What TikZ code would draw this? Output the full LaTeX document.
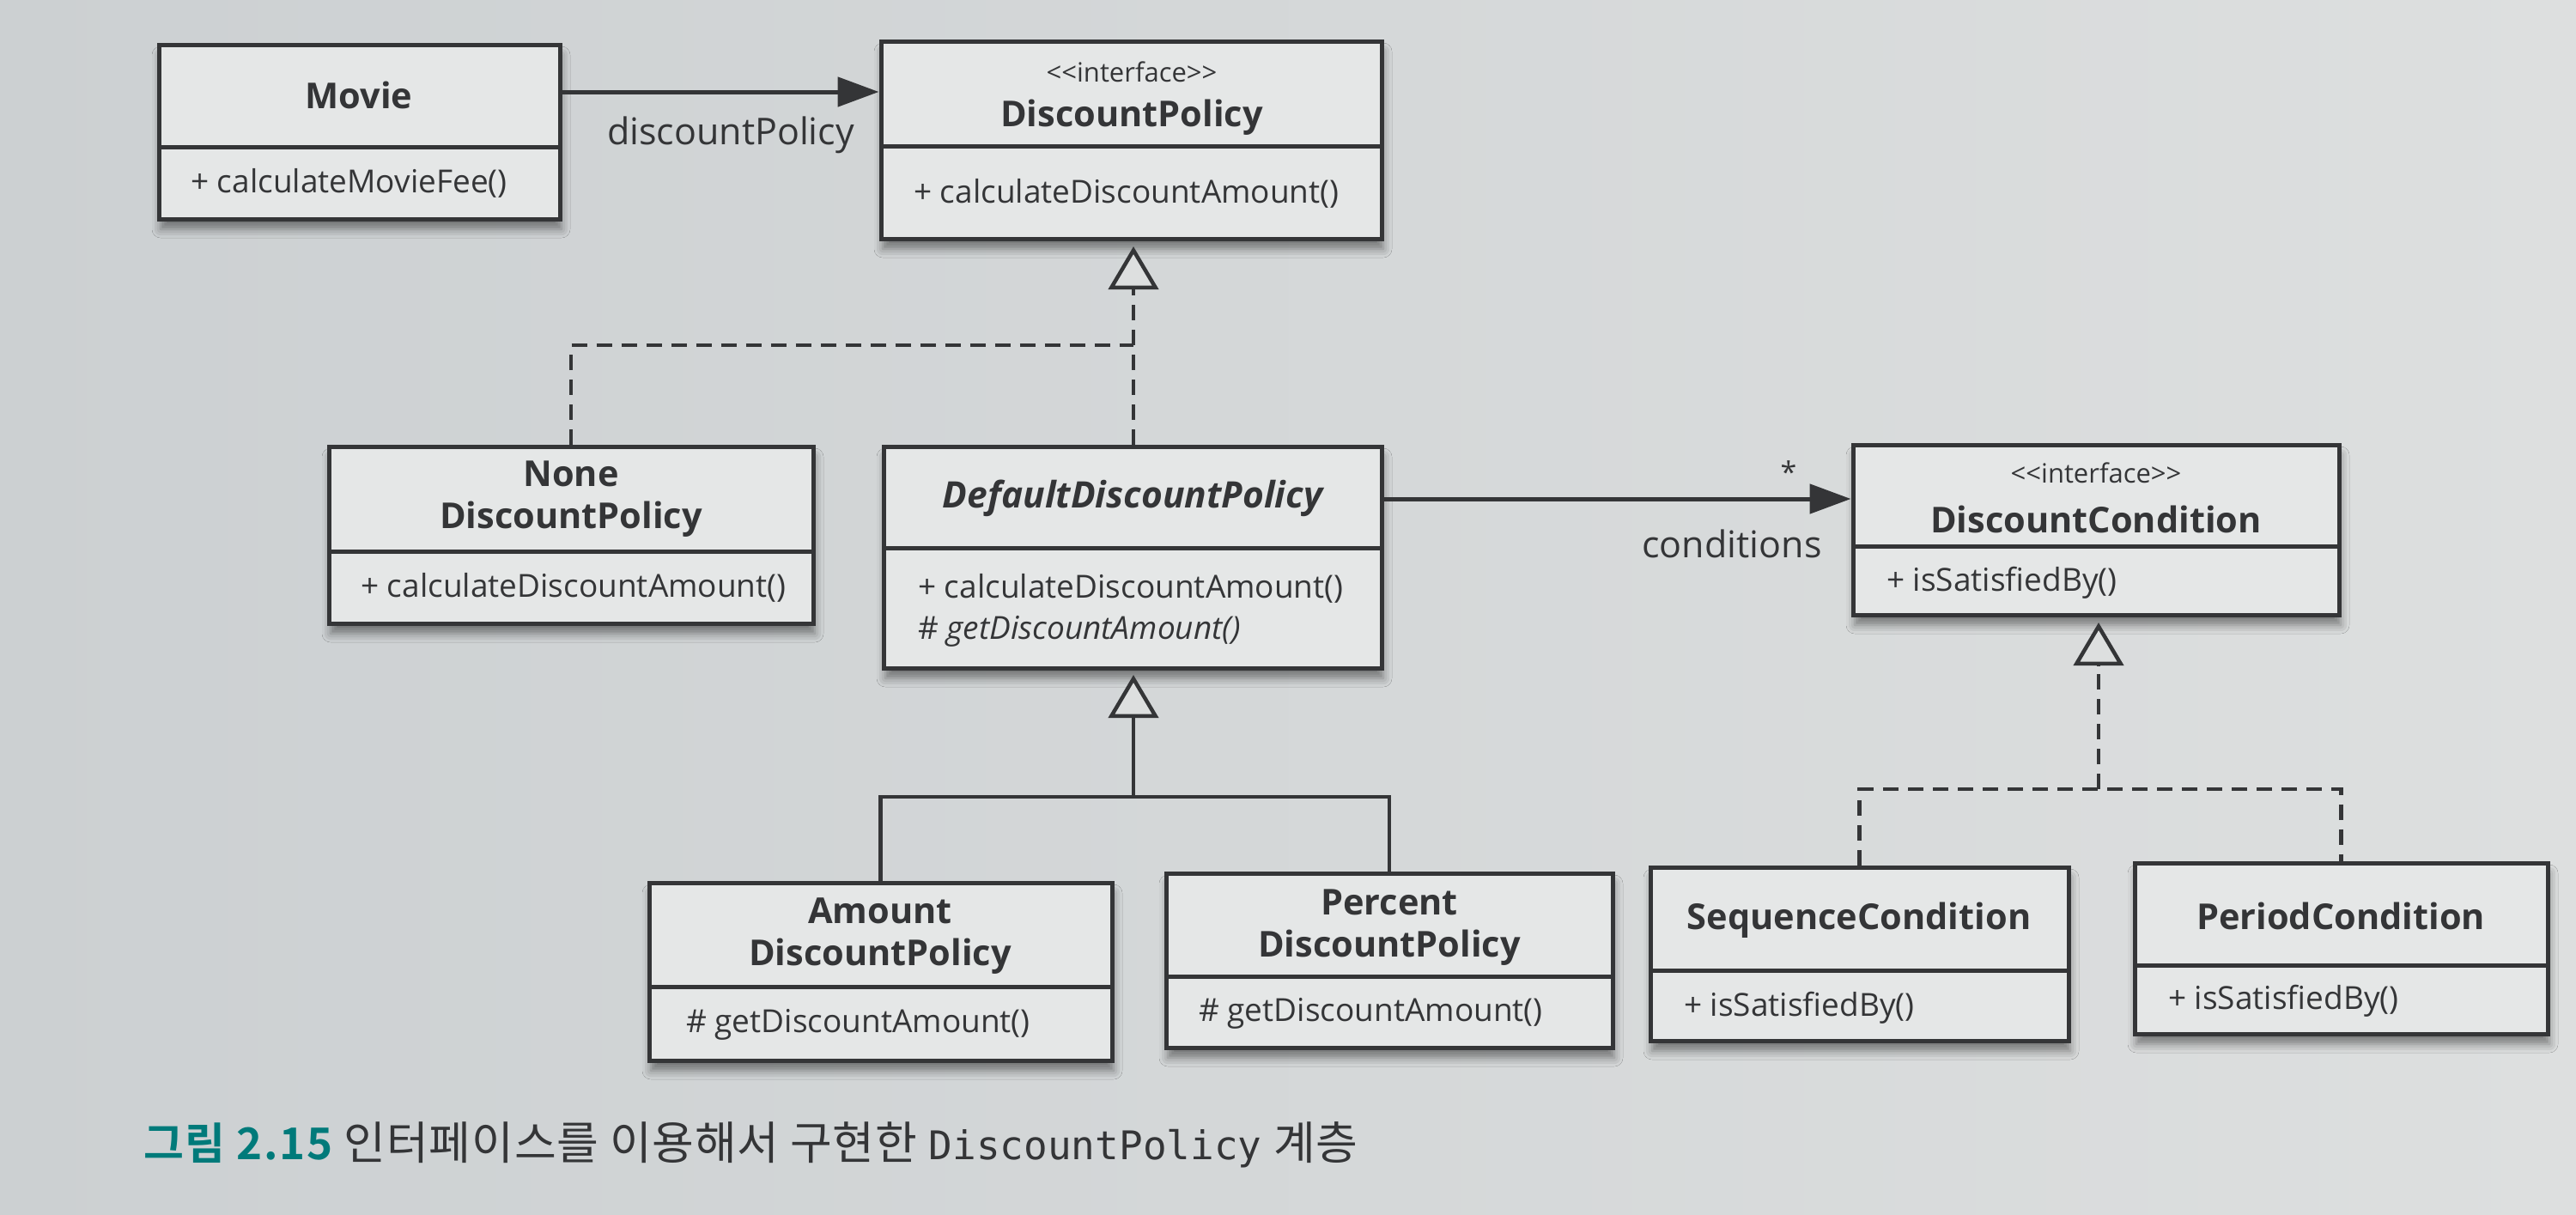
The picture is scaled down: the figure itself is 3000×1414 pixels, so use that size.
\documentclass[tikz,border=0pt]{standalone}
\usepackage{fontspec}
\setmainfont{Open Sans}
\newfontfamily\cjkfont[LetterSpace=1.5]{Noto Sans CJK KR}
\newfontfamily\cjkbold[LetterSpace=3]{Noto Sans CJK KR Bold}
\newfontfamily\capmono{DejaVu Sans Mono}
\usetikzlibrary{arrows.meta,shadows.blur}
\definecolor{paperL}{RGB}{204,208,210}
\definecolor{paperR}{RGB}{221,223,223}
\definecolor{boxfill}{RGB}{229,231,231}
\definecolor{ink}{RGB}{52,53,55}
\definecolor{teal}{RGB}{0,122,122}
\newcommand\classbox[6]{%
  \node[cbox, minimum width={(#4-#2)*1pt}, minimum height={(#5-#3)*1pt}] (#1) at ({(#2+#4)/2},{(#3+#5)/2}) {};
  \draw[cline] (#2,#6) -- (#4,#6);
}
\tikzset{
  cbox/.style={draw=ink, line width=5pt, fill=boxfill, inner sep=0pt,
    blur shadow={shadow xshift=2pt, shadow yshift=-12pt, shadow blur radius=10pt, shadow opacity=45}},
  cline/.style={draw=ink, line width=5pt},
  ctitle/.style={text=ink, font=\fontsize{41.5}{49}\selectfont\bfseries, align=center, inner sep=0pt},
  cstereo/.style={text=ink, font=\fontsize{31}{36}\selectfont, inner sep=0pt},
  cmeth/.style={text=ink, font=\fontsize{37}{50}\selectfont, align=left, inner sep=0pt, anchor=west},
  clabel/.style={text=ink, font=\fontsize{43}{50}\selectfont, inner sep=0pt},
  assoc/.style={draw=ink, line width=5pt, -{Triangle[length=48pt, width=34pt]}},
  realize/.style={draw=ink, line width=4.5pt, dash pattern=on 18pt off 11pt},
  gener/.style={draw=ink, line width=4.5pt},
  hollow/.style={draw=ink, line width=4.5pt, solid, -{Triangle[length=50pt, width=58pt, fill=paperR]}},
}
\begin{document}
\begin{tikzpicture}[x=1pt,y=-1pt]
\useasboundingbox (0,0) rectangle (3000,1414);
\fill[left color=paperL, right color=paperR] (0,0) rectangle (3000,1414);

% boxes
\classbox{Movie}{185}{52}{652}{255}{171}
\classbox{DP}{1026}{48}{1609}{278}{170}
\classbox{None}{383}{520}{947}{726}{642}
\classbox{Default}{1029}{520}{1609}{778}{638}
\classbox{DC}{2158}{518}{2724}{716}{636}
\classbox{Amount}{756}{1028}{1295}{1235}{1149}
\classbox{Percent}{1358}{1017}{1878}{1220}{1137}
\classbox{Seq}{1922}{1010}{2409}{1212}{1130}
\classbox{Period}{2486}{1005}{2967}{1204}{1124}

% texts
\node[ctitle] (Movie-t) at (418,111) {Movie};
\node[cmeth] (Movie-m) at (222,213) {+ calculateMovieFee()};

\node[cstereo] (DP-s) at (1318,84) {<{}<interface>{}>};
\node[ctitle] (DP-t) at (1318,137) {DiscountPolicy};
\node[cmeth] (DP-m) at (1064,225) {+ calculateDiscountAmount()};

\node[ctitle] (None-t) at (665,581) {None\\DiscountPolicy};
\node[cmeth] (None-m) at (420,684) {+ calculateDiscountAmount()};

\node[ctitle, font=\fontsize{42.5}{49}\selectfont\bfseries\itshape] (Default-t) at (1319,580) {DefaultDiscountPolicy};
\node[cmeth] (Default-m1) at (1069,685) {+ calculateDiscountAmount()};
\node[cmeth] (Default-m2) at (1069,735) {\# \textit{getDiscountAmount()}};

\node[cstereo] (DC-s) at (2441,551) {<{}<interface>{}>};
\node[ctitle] (DC-t) at (2441,605) {DiscountCondition};
\node[cmeth] (DC-m) at (2197,679) {+ isSatisfiedBy()};

\node[ctitle] (Amount-t) at (1025,1090) {Amount\\DiscountPolicy};
\node[cmeth] (Amount-m) at (799,1193) {\# getDiscountAmount()};

\node[ctitle] (Percent-t) at (1618,1080) {Percent\\DiscountPolicy};
\node[cmeth] (Percent-m) at (1396,1180) {\# getDiscountAmount()};

\node[ctitle] (Seq-t) at (2165,1072) {SequenceCondition};
\node[cmeth] (Seq-m) at (1961,1174) {+ isSatisfiedBy()};

\node[ctitle] (Period-t) at (2726,1067) {PeriodCondition};
\node[cmeth] (Period-m) at (2525,1166) {+ isSatisfiedBy()};

% associations
\coordinate (a1) at (0,107);
\draw[assoc] (Movie.east |- a1) -- (DP.west |- a1);
\node[clabel] (lab1) at (851,157) {discountPolicy};

\coordinate (a2) at (0,581);
\draw[assoc] (Default.east |- a2) -- (DC.west |- a2);
\node[clabel] (lab2) at (2017,633) {conditions};
\node[clabel, font=\fontsize{34}{40}\selectfont] (star) at (2083,550) {*};

% realization DiscountPolicy
\coordinate (r1) at (1320,402);
\coordinate (r1b) at (1320,341);
\coordinate (r1t) at (1320,287);
\draw[realize] (None.north) |- (r1);
\draw[realize] (Default.north -| r1) -- (r1b);
\draw[hollow] (r1b) -- (r1t);

% generalization DefaultDiscountPolicy
\coordinate (g1) at (1320,928);
\coordinate (g1b) at (1320,836);
\coordinate (g1t) at (1320,786);
\draw[gener] (Amount.north) |- (g1) -| (Percent.north);
\draw[gener] (g1) -- (g1b);
\draw[hollow] (g1b) -- (g1t);

% realization DiscountCondition
\coordinate (c1) at (2444,919);
\coordinate (c1b) at (2444,776);
\coordinate (c1t) at (2444,725);
\draw[realize] (Seq.north) |- (c1) -| (Period.north);
\draw[realize] (c1) -- (c1b);
\draw[hollow] (c1b) -- (c1t);

% caption
\node[anchor=base west, inner sep=0pt, text=ink, font=\fontsize{53}{58}\selectfont] (cap) at (167,1350)
  {{\cjkbold\fontsize{51}{58}\selectfont\color{teal}그림 2.15} {\cjkfont 인터페이스를 이용해서 구현한} {\capmono\fontsize{46}{50}\selectfont DiscountPolicy} {\cjkfont 계층}};
\end{tikzpicture}
\end{document}
